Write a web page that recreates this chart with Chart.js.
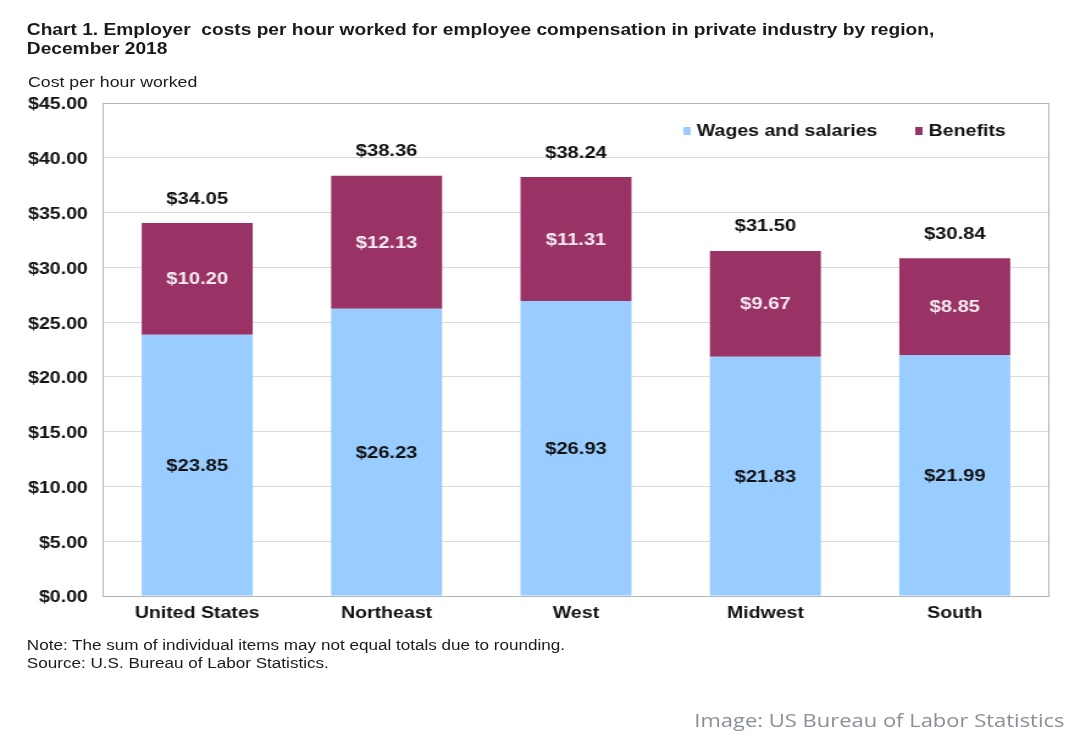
<!DOCTYPE html>
<html>
<head>
<meta charset="utf-8">
<script src="https://cdn.jsdelivr.net/npm/chart.js@4/dist/chart.umd.min.js"></script>
<style>
  html, body { margin: 0; padding: 0; background: #ffffff; }
  body { width: 1080px; height: 745px; position: relative; overflow: hidden; font-family: "Liberation Sans", Arial, sans-serif; }
  /* the reference image is horizontally stretched; reproduce that with one uniform scaleX */
  #stage { position: absolute; left: 0; top: 0; width: 885px; height: 745px; transform-origin: 0 0; transform: scaleX(1.2203); }
  #c { position: absolute; left: 0; top: 0; }
  .t { position: absolute; white-space: nowrap; color: #1a1a1a; }
  #title { left: 22px; top: 20px; font-weight: bold; font-size: 15.7px; line-height: 19px; }
  #ytitle { left: 23px; top: 74px; font-size: 14.5px; line-height: 17px; }
  #note { left: 22px; top: 636px; font-size: 14px; line-height: 18px; }
  #credit { left: 569px; top: 707px; font-size: 18px; line-height: 26px; color: #8a8f99; font-family: "Open Sans", "Liberation Sans", sans-serif; }
</style>
</head>
<body>
<div id="stage">
  <canvas id="c" width="885" height="745"></canvas>
  <div class="t" id="title">Chart 1. Employer&nbsp; costs per hour worked for employee compensation in private industry by region,<br>December 2018</div>
  <div class="t" id="ytitle">Cost per hour worked</div>
  <div class="t" id="note">Note: The sum of individual items may not equal totals due to rounding.<br>Source: U.S. Bureau of Labor Statistics.</div>
  <div class="t" id="credit">Image: US Bureau of Labor Statistics</div>
</div>
<script>
const categories = ["United States", "Northeast", "West", "Midwest", "South"];
const wages = [23.85, 26.23, 26.93, 21.83, 21.99];
const benefits = [10.20, 12.13, 11.31, 9.67, 8.85];
const totals = [34.05, 38.36, 38.24, 31.50, 30.84];
const seriesNames = ["Wages and salaries", "Benefits"];
const yTicks = [0, 5, 10, 15, 20, 25, 30, 35, 40, 45];

const FONT = '"Liberation Sans", Arial, sans-serif';
const money = v => '$' + Number(v).toFixed(2);

const labelPlugin = {
  id: 'labels',
  beforeDatasetsDraw(chart) {
    const { ctx, chartArea: a } = chart;
    ctx.save();
    ctx.strokeStyle = '#b4b4b4';
    ctx.lineWidth = 1;
    ctx.strokeRect(Math.round(a.left) + 0.5, Math.round(a.top) + 0.5, Math.round(a.right - a.left) - 1, Math.round(a.bottom - a.top));
    ctx.restore();
  },
  afterDatasetsDraw(chart) {
    const { ctx } = chart;
    ctx.save();
    ctx.textAlign = 'center';
    ctx.textBaseline = 'middle';
    ctx.font = 'bold 16.5px ' + FONT;
    chart.data.datasets.forEach((ds, di) => {
      const meta = chart.getDatasetMeta(di);
      meta.data.forEach((bar, i) => {
        const cy = (bar.y + bar.base) / 2;
        ctx.fillStyle = di === 0 ? '#111111' : '#f4eaef';
        ctx.fillText(money(ds.data[i]), bar.x, cy + 1);
      });
    });
    const topMeta = chart.getDatasetMeta(chart.data.datasets.length - 1);
    ctx.fillStyle = '#111111';
    topMeta.data.forEach((bar, i) => {
      ctx.fillText(money(totals[i]), bar.x, bar.y - 24);
    });
    // legend (inside the plot area, top right)
    ctx.textAlign = 'left';
    ctx.font = 'bold 16px ' + FONT;
    const legendX = [560, 750];
    const ly = 131;
    chart.data.datasets.forEach((ds, di) => {
      ctx.fillStyle = ds.backgroundColor;
      ctx.fillRect(legendX[di], ly - 4, 6, 8);
      ctx.fillStyle = '#111111';
      ctx.fillText(ds.label, legendX[di] + 11, ly + 1);
    });
    ctx.restore();
  }
};

new Chart(document.getElementById('c'), {
  type: 'bar',
  data: {
    labels: categories,
    datasets: [
      { label: seriesNames[0], data: wages, backgroundColor: '#99ccff', borderWidth: 0 },
      { label: seriesNames[1], data: benefits, backgroundColor: '#993366', borderWidth: 0 }
    ]
  },
  options: {
    responsive: false,
    animation: false,
    devicePixelRatio: 1,
    layout: { padding: { left: 0, top: 103, right: 25, bottom: 119 } },
    plugins: { legend: { display: false }, tooltip: { enabled: false }, title: { display: false } },
    datasets: { bar: { categoryPercentage: 1.0, barPercentage: 0.586 } },
    scales: {
      x: {
        stacked: true,
        grid: { display: false, drawTicks: false },
        border: { display: false },
        ticks: { color: '#111111', font: { family: FONT, size: 16, weight: 'bold' }, padding: 8, maxRotation: 0 },
        afterFit(s) { s.height = 30; }
      },
      y: {
        stacked: true,
        min: 0, max: 45,
        afterBuildTicks(s) { s.ticks = yTicks.map(v => ({ value: v })); },
        grid: { color: '#d9d9d9', lineWidth: 1, drawTicks: false },
        border: { display: false },
        ticks: { color: '#111111', font: { family: FONT, size: 16, weight: 'bold' }, padding: 12, labelOffset: 2, callback: v => money(v) },
        afterFit(s) { s.width = 84; }
      }
    }
  },
  plugins: [labelPlugin]
});
</script>
</body>
</html>
